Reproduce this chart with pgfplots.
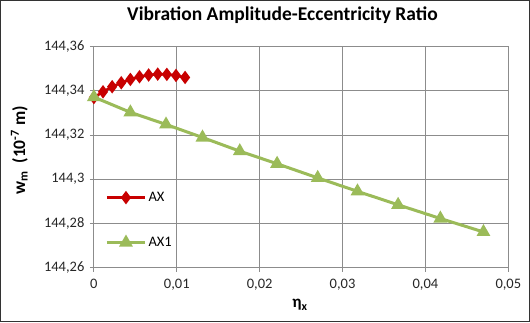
\documentclass[border=0pt]{standalone}
\usepackage{pgfplots}
\pgfplotsset{compat=1.18}
\usepackage{fontspec}
\setmainfont{Carlito}
\definecolor{axred}{HTML}{C80000}
\definecolor{axgreen}{HTML}{9BBB59}
\definecolor{gridgray}{HTML}{8C8C8C}
\begin{document}
\begin{tikzpicture}
\begin{axis}[
  scale only axis,
  width=413bp, height=220bp,
  xmin=0, xmax=0.05, ymin=144.26, ymax=144.36,
  xtick={0,0.01,0.02,0.03,0.04,0.05},
  ytick={144.26,144.28,144.30,144.32,144.34,144.36},
  scaled x ticks=false, scaled y ticks=false,
  /pgf/number format/.cd, use comma, fixed, precision=2, 1000 sep={}, assume math mode=true,
  /pgfplots/.cd,
  grid=major,
  major grid style={gridgray, line width=0.9bp},
  axis line style={gridgray, line width=0.9bp},
  tick style={gridgray, line width=0.9bp},
  tick align=outside,
  major tick length=4bp,
  xtick pos=bottom, ytick pos=left,
  ticklabel style={font=\fontsize{14.5}{17}\selectfont, text=black!85},
  xticklabel style={yshift=-4bp},
  yticklabel style={xshift=-2bp},
  title={\textbf{Vibration Amplitude-Eccentricity Ratio}},
  title style={font=\fontsize{19.5}{23}\selectfont, at={(axis description cs:0.455,1)}, anchor=center, yshift=25bp},
  xlabel={\textbf{η\textsubscript{x}}},
  xlabel style={font=\fontsize{17}{20}\selectfont, at={(axis description cs:0.497,-0.17)}, anchor=center},
  ylabel={\textbf{w\textsubscript{m} \ (10\textsuperscript{-7} m)}},
  ylabel style={font=\fontsize{17.5}{20}\selectfont, at={(axis description cs:-0.18,0.53)}, anchor=center},
  legend style={draw=none, fill=none, at={(axis description cs:0.02,0.36)}, anchor=north west,
    font=\fontsize{14.5}{17}\selectfont, row sep=30bp},
  legend cell align=left,
  legend image code/.code={\draw[mark repeat=2,mark phase=2,#1] plot coordinates {(0bp,0bp)(19bp,0bp)(38bp,0bp)};},
]
\addplot[axred, line width=2.6bp, mark=diamond*, mark size=4.6bp, mark options={solid}] coordinates {
(0,144.3370) (0.0011,144.3396) (0.0022,144.3419) (0.0033,144.3437) (0.0044,144.3452)
(0.0055,144.3464) (0.0066,144.3472) (0.0077,144.3476) (0.0088,144.3475) (0.0099,144.3470) (0.0110,144.3461)
};
\addlegendentry{AX}
\addplot[axgreen, line width=3bp, mark=triangle*, mark size=5bp, mark options={solid}] coordinates {
(0,144.3372) (0.0044,144.3303) (0.0087,144.3248) (0.0131,144.3189) (0.0176,144.3127)
(0.0221,144.3070) (0.0270,144.3006) (0.0318,144.2945) (0.0367,144.2884) (0.0418,144.2822) (0.0470,144.2761)
};
\addlegendentry{AX1}
\coordinate (sw) at (rel axis cs:0,0);
\coordinate (ne) at (rel axis cs:1,1);
\end{axis}
\draw[black!80, line width=1.2bp] ([shift={(-93bp,-54bp)}]sw) rectangle ([shift={(21bp,46bp)}]ne);
\end{tikzpicture}
\end{document}
